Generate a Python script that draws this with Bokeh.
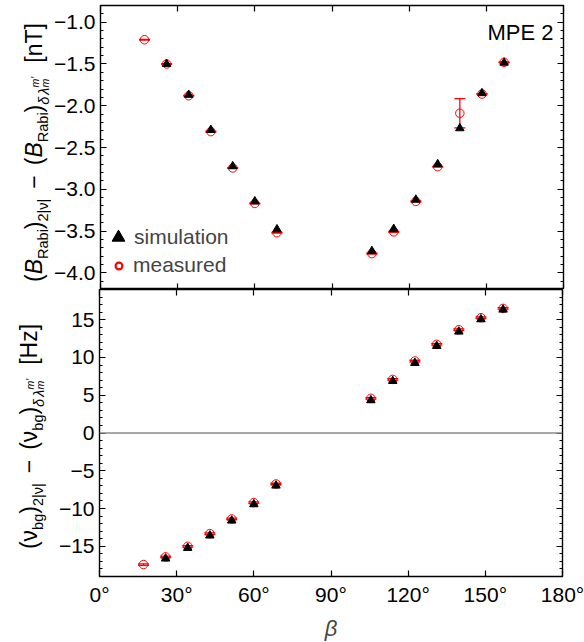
import numpy as np
from bokeh.plotting import figure
from bokeh.layouts import column, row
from bokeh.models import (ColumnDataSource, Whisker, TeeHead, Span, Label, Legend, LegendItem,
                          LinearAxis, FixedTicker, SingleIntervalTicker, CustomJSTickFormatter,
                          Range1d, CDSView, IndexFilter)
from bokeh.embed import file_html
from bokeh.resources import INLINE

# ---------------- data ----------------
beta = [17.1, 25.7, 34.3, 42.9, 51.4, 60.0, 68.6, 105.5, 114.0, 122.6, 131.1, 139.7, 148.3, 156.9]
beta_sim = beta[1:]

b_rabi_measured = [-1.21, -1.50, -1.88, -2.31, -2.745, -3.17, -3.52,
                   -3.77, -3.51, -3.145, -2.73, -2.09, -1.86, -1.48]
b_rabi_measured_err = [0.005, 0.005, 0.005, 0.005, 0.005, 0.005, 0.005,
                       0.005, 0.005, 0.005, 0.005, 0.175, 0.005, 0.005]
b_rabi_simulation = [-1.50, -1.87, -2.29, -2.725, -3.145, -3.48,
                     -3.74, -3.475, -3.125, -2.70, -2.27, -1.85, -1.485]

nu_bg_measured = [-17.42, -16.4, -15.0, -13.32, -11.38, -9.21, -6.75,
                  4.59, 7.10, 9.53, 11.74, 13.68, 15.27, 16.50]
nu_bg_measured_err = [0.1] * 14
nu_bg_simulation = [-16.63, -15.22, -13.58, -11.60, -9.44, -6.97,
                    4.33, 6.88, 9.27, 11.52, 13.42, 15.05, 16.33]

x_ticks = [0, 30, 60, 90, 120, 150, 180]
panel_tag = "MPE 2"
legend_labels = ["simulation", "measured"]

# ---------------- geometry / style ----------------
FONT = "Liberation Sans"
WL = 51                 # width of the strip holding the rotated y titles
LEFT, RIGHT = 99, 22
FW = 463
X0, X1 = 0, 180
PXD = FW / (X1 - X0)
FH1, FH2 = 284, 287
Y1MIN, Y1MAX = -4.2, -0.8
Y2MIN, Y2MAX = -19, 19
RED = "#ff0000"

ARIAL = {'(': .333, ')': .333, 'B': .667, 'R': .722, 'a': .556, 'b': .556, 'i': .222,
         '2': .556, '|': .26, 'ν': .5, '−': .584, 'δ': .556, 'λ': .5, 'm': .833,
         '′': .19, '[': .278, ']': .278, 'n': .556, 'T': .611, 'H': .722, 'z': .5,
         'g': .556, ' ': .278}


def tw(t, size):
    return sum(ARIAL.get(c, .556) for c in t) * size


def make_fig(fh, ymin, ymax, top, bottom):
    p = figure(frame_width=FW, frame_height=fh,
               x_range=Range1d(X0, X1), y_range=Range1d(ymin, ymax),
               min_border_left=LEFT - WL, min_border_right=RIGHT,
               min_border_top=top, min_border_bottom=bottom,
               output_backend="svg", toolbar_location=None,
               x_axis_location=None, y_axis_location=None)
    p.grid.visible = False
    p.outline_line_color = "black"
    p.outline_line_width = 1.4
    p.background_fill_color = "white"
    p.border_fill_color = "white"
    return p


def style_axis(ax, labels):
    ax.axis_line_color = None
    ax.major_tick_in = 6
    ax.major_tick_out = 0
    ax.minor_tick_in = 3
    ax.minor_tick_out = 0
    ax.major_tick_line_color = "black"
    ax.minor_tick_line_color = "black"
    ax.major_tick_line_width = 1.2
    ax.minor_tick_line_width = 1
    if labels:
        ax.major_label_text_font = FONT
        ax.major_label_text_font_size = "21px"
        ax.major_label_text_color = "black"
        ax.major_label_standoff = 5
    else:
        ax.formatter = CustomJSTickFormatter(code="return '';")
        ax.major_label_text_font_size = "1px"
        ax.major_label_standoff = 0


def add_axes(p, yticker, yfmt, xlabels):
    xt = FixedTicker(ticks=x_ticks, minor_ticks=[])
    left = LinearAxis(ticker=yticker, formatter=yfmt)
    style_axis(left, True)
    right = LinearAxis(ticker=yticker)
    style_axis(right, False)
    top = LinearAxis(ticker=xt)
    style_axis(top, False)
    bot = LinearAxis(ticker=xt)
    if xlabels:
        bot.formatter = CustomJSTickFormatter(code="return tick.toFixed(0) + '\u00b0';")
    style_axis(bot, xlabels)
    p.add_layout(left, "left")
    p.add_layout(right, "right")
    p.add_layout(top, "above")
    p.add_layout(bot, "below")
    return bot


def title_strip(fh, top, bottom, pieces, base_px, center_px):
    """A narrow figure left of a panel that carries the rotated, sub-scripted y title."""
    f = figure(frame_width=WL, frame_height=fh,
               x_range=Range1d(0, WL), y_range=Range1d(fh, 0),
               min_border_left=0, min_border_right=0,
               min_border_top=top, min_border_bottom=bottom,
               output_backend="svg", toolbar_location=None,
               x_axis_location=None, y_axis_location=None)
    f.grid.visible = False
    f.outline_line_color = None
    f.border_fill_color = "white"
    f.background_fill_color = "white"
    items = []
    s = 0.0
    for piece in pieces:
        if piece[0] == "gap":
            s += piece[1]
            continue
        if piece[0] == "stack":
            w = 0
            for (t, size, shift, style) in piece[1]:
                items.append((s, t, size, shift, style))
                w = max(w, tw(t, size))
            s += w
            continue
        t, size, shift, style = piece
        items.append((s, t, size, shift, style))
        s += tw(t, size)
    start = center_px + s / 2
    for (off, t, size, shift, style) in items:
        f.add_layout(Label(x=base_px + shift, y=start - off, text=t, angle=np.pi / 2,
                           text_align="left", text_baseline="alphabetic",
                           text_font=FONT, text_font_size=f"{size}px",
                           text_font_style=style, text_color="black"))
    return f


M, S, T = 23, 14.5, 10.5
SUB = 9

# ---------------- top panel ----------------
p1 = make_fig(FH1, Y1MIN, Y1MAX, 5, 0)
add_axes(p1, SingleIntervalTicker(interval=0.5, num_minor_ticks=5),
         CustomJSTickFormatter(code="return tick.toFixed(1).replace('-', '\u2212');"), False)

src1 = ColumnDataSource(dict(
    x=beta, y=b_rabi_measured,
    up=[v + e for v, e in zip(b_rabi_measured, b_rabi_measured_err)],
    lo=[v - e for v, e in zip(b_rabi_measured, b_rabi_measured_err)]))
p1.add_layout(Whisker(base="x", upper="up", lower="lo", source=src1,
                      line_color=RED, line_width=1.3,
                      upper_head=TeeHead(size=11, line_color=RED, line_width=1.3),
                      lower_head=TeeHead(size=11, line_color=RED, line_width=1.3)))
p1.scatter("x", "y", source=src1, marker="circle", size=8.5,
           fill_color=None, line_color=RED, line_width=1)
r_tri1 = p1.scatter(x=beta_sim, y=b_rabi_simulation, marker="triangle", size=8.5,
                    fill_color="black", line_color="black")
# style carrier for the legend's circle (zero-size, so it draws nothing in the plot)
r_leg_circ = p1.scatter("x", "y", source=src1, view=CDSView(filter=IndexFilter([0])),
                        marker="circle", size=0, fill_color=None,
                        line_color=RED, line_width=2.2)

leg1 = Legend(items=[LegendItem(label=legend_labels[0], renderers=[r_tri1])],
              location=(2, 36), glyph_width=32, glyph_height=32, label_standoff=0,
              padding=0, margin=0, border_line_color=None, background_fill_alpha=0,
              label_text_font=FONT, label_text_font_size="21px", label_height=20)
leg2 = Legend(items=[LegendItem(label=legend_labels[1], renderers=[r_leg_circ])],
              location=(10, 12), glyph_width=17, glyph_height=17, label_standoff=6,
              padding=0, margin=0, border_line_color=None, background_fill_alpha=0,
              label_text_font=FONT, label_text_font_size="21px", label_height=20)
p1.add_layout(leg1)
p1.add_layout(leg2)

ppu1 = FH1 / (Y1MAX - Y1MIN)
p1.add_layout(Label(x=X1 - (LEFT + FW - 552) / PXD, y=Y1MAX - (32.3 - 5) / ppu1,
                    text=panel_tag, text_align="right", text_baseline="alphabetic",
                    text_font=FONT, text_font_size="22px", text_color="black"))

top_pieces = [
    ("(", M, 0, "normal"), ("B", M, 0, "italic"), ("Rabi", S, SUB, "normal"), (")", M, 0, "normal"),
    ("2|ν|", S, SUB, "normal"), ("gap", 10), ("−", M, 0, "normal"), ("gap", 10),
    ("(", M, 0, "normal"), ("B", M, 0, "italic"), ("Rabi", S, SUB, "normal"), (")", M, 0, "normal"),
    ("δ", S, 10, "italic"), ("gap", 2), ("λ", S, 10, "italic"),
    ("stack", [("m′", T, 1, "italic"), ("m", T, 11.5, "italic")]),
    ("gap", 14), ("[nT]", M, 0, "normal"),
]
t1 = title_strip(FH1, 5, 0, top_pieces, 33, 152 - 5)

# ---------------- bottom panel ----------------
p2 = make_fig(FH2, Y2MIN, Y2MAX, 0, 66)
xbot = add_axes(p2, SingleIntervalTicker(interval=5, num_minor_ticks=5),
                CustomJSTickFormatter(code="return tick.toFixed(0).replace('-', '\u2212');"), True)
xbot.major_label_standoff = 6
xbot.axis_label = "β"
xbot.axis_label_text_font = FONT
xbot.axis_label_text_font_size = "22px"
xbot.axis_label_text_font_style = "italic"
xbot.axis_label_standoff = 7

p2.add_layout(Span(location=0, dimension="width", line_color="#8a8a8a", line_width=1.5))

src2 = ColumnDataSource(dict(
    x=beta, y=nu_bg_measured,
    up=[v + e for v, e in zip(nu_bg_measured, nu_bg_measured_err)],
    lo=[v - e for v, e in zip(nu_bg_measured, nu_bg_measured_err)]))
p2.add_layout(Whisker(base="x", upper="up", lower="lo", source=src2,
                      line_color=RED, line_width=1.3,
                      upper_head=TeeHead(size=11, line_color=RED, line_width=1.3),
                      lower_head=TeeHead(size=11, line_color=RED, line_width=1.3)))
p2.scatter("x", "y", source=src2, marker="circle", size=8.5,
           fill_color=None, line_color=RED, line_width=1)
p2.scatter(x=beta_sim, y=nu_bg_simulation, marker="triangle", size=8.5,
           fill_color="black", line_color="black")

bot_pieces = [
    ("(", M, 0, "normal"), ("ν", M, 0, "normal"), ("bg", S, SUB, "normal"), (")", M, 0, "normal"),
    ("2|ν|", S, SUB, "normal"), ("gap", 10), ("−", M, 0, "normal"), ("gap", 10),
    ("(", M, 0, "normal"), ("ν", M, 0, "normal"), ("bg", S, SUB, "normal"), (")", M, 0, "normal"),
    ("δ", S, 10, "italic"), ("gap", 2), ("λ", S, 10, "italic"),
    ("stack", [("m′", T, 1, "italic"), ("m", T, 11.5, "italic")]),
    ("gap", 14), ("[Hz]", M, 0, "normal"),
]
t2 = title_strip(FH2, 0, 66, bot_pieces, 28, 436 - 289)

layout = column(row(t1, p1, spacing=0), row(t2, p2, spacing=0), spacing=0)
open("out.html", "w").write(file_html(layout, INLINE))
